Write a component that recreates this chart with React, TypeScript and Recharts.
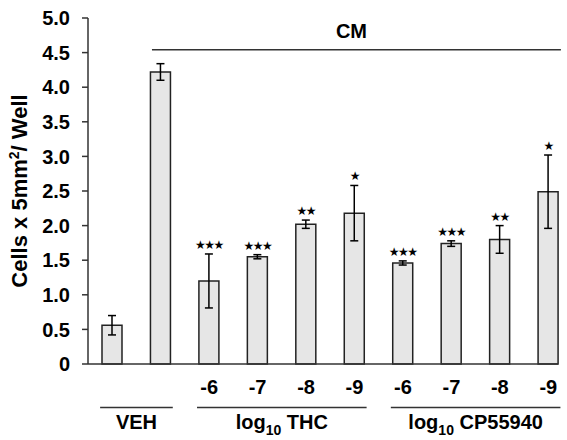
import React from 'react';
import {
  BarChart,
  Bar,
  XAxis,
  YAxis,
  ErrorBar,
  LabelList,
  ReferenceLine,
} from 'recharts';

const groupNames = ['VEH', 'CM', 'THC -6', 'THC -7', 'THC -8', 'THC -9', 'CP -6', 'CP -7', 'CP -8', 'CP -9'];
const means = [0.56, 4.22, 1.2, 1.55, 2.02, 2.18, 1.46, 1.74, 1.8, 2.49];
const errors = [0.14, 0.12, 0.39, 0.03, 0.06, 0.4, 0.03, 0.04, 0.2, 0.53];
const sigMarks = ['', '', '***', '***', '**', '*', '***', '***', '**', '*'];
const doseLabels = ['', '', '-6', '-7', '-8', '-9', '-6', '-7', '-8', '-9'];
const yTicks = [0, 0.5, 1, 1.5, 2, 2.5, 3, 3.5, 4, 4.5, 5];

const FONT = '"Liberation Sans", Arial, sans-serif';
const AXIS = '#333';

const data = groupNames.map((name, i) => ({
  idx: i,
  name,
  mean: means[i],
  err: errors[i],
  sig: sigMarks[i],
}));

// bracket under the axis: first / last bar index
const brackets = [
  { label: 'VEH', first: 0, last: 1, sub: false },
  { label: 'THC', first: 2, last: 5, sub: true },
  { label: 'CP55940', first: 6, last: 9, sub: true },
];

const Stars = (props: any) => {
  const { x, y, width, height, index, value } = props;
  if (!value) return null;
  const pxPerUnit = height / means[index];
  const top = y - errors[index] * pxPerUnit;
  return (
    <text
      x={x + width / 2}
      y={top - 9}
      textAnchor="middle"
      dominantBaseline="central"
      fontSize={12}
      letterSpacing={-1.5}
      fontFamily='"DejaVu Sans", sans-serif'
      fill="#000"
    >
      {value.replace(/\*/g, '★')}
    </text>
  );
};

const YTitle = (props: any) => {
  const { viewBox } = props;
  const cy = viewBox.y + viewBox.height / 2;
  const bx = 27;
  return (
    <text
      x={bx}
      y={cy}
      transform={`rotate(-90, ${bx}, ${cy})`}
      textAnchor="middle"
      fontSize={22}
      fontWeight="bold"
      fontFamily={FONT}
      fill="#000"
    >
      <tspan>Cells x 5mm</tspan>
      <tspan dy={-8} fontSize={14}>2</tspan>
      <tspan dy={8}>/ Well</tspan>
    </text>
  );
};

const BracketLabel = ({ viewBox, text, sub }: any) => {
  const cx = viewBox.x + viewBox.width / 2;
  const y = viewBox.y + 21;
  return (
    <text x={cx} y={y} textAnchor="middle" fontSize={20} fontWeight="bold" fontFamily={FONT} fill="#000">
      {sub ? (
        <>
          <tspan>log</tspan>
          <tspan dy={6} fontSize={14}>10</tspan>
          <tspan dy={-6}>{' ' + text}</tspan>
        </>
      ) : (
        text
      )}
    </text>
  );
};

const CmLabel = ({ viewBox }: any) => (
  <text
    x={viewBox.x + viewBox.width / 2 - 5}
    y={viewBox.y - 12}
    textAnchor="middle"
    fontSize={20}
    fontWeight="bold"
    fontFamily={FONT}
    fill="#000"
  >
    CM
  </text>
);

export default function App() {
  return (
    <div style={{ position: 'absolute', left: 0, top: 0, background: '#fff' }}>
      <BarChart
        width={567}
        height={440}
        data={data}
        margin={{ top: 18, right: 9, left: 0, bottom: 46 }}
      >
        <XAxis
          dataKey="idx"
          type="number"
          domain={[-0.5, 9.2]}
          ticks={[0, 1, 2, 3, 4, 5, 6, 7, 8, 9]}
          interval={0}
          tickFormatter={(v) => doseLabels[v] ?? ''}
          tickLine={false}
          tickSize={0}
          tickMargin={16}
          height={30}
          axisLine={{ stroke: AXIS, strokeWidth: 1.5 }}
          tick={{ fill: '#000', fontSize: 20, fontWeight: 'bold', fontFamily: FONT }}
        />
        <YAxis
          type="number"
          domain={[0, 5]}
          ticks={yTicks}
          interval={0}
          width={88}
          tickSize={6}
          tickMargin={12}
          tickFormatter={(v) => (v === 0 ? '0' : v.toFixed(1))}
          axisLine={{ stroke: AXIS, strokeWidth: 1.5 }}
          tickLine={{ stroke: AXIS, strokeWidth: 1.5 }}
          tick={{ fill: '#000', fontSize: 20, fontWeight: 'bold', fontFamily: FONT }}
          label={(p: any) => <YTitle {...p} />}
        />
        <Bar
          dataKey="mean"
          barSize={20}
          fill="#e6e6e6"
          stroke="#222"
          strokeWidth={1.5}
          isAnimationActive={false}
        >
          <ErrorBar dataKey="err" width={4} stroke="#000" strokeWidth={1.5} direction="y" />
          <LabelList dataKey="sig" content={(p: any) => <Stars {...p} />} />
        </Bar>
        <ReferenceLine
          segment={[
            { x: 0.82, y: 4.54 },
            { x: 9.26, y: 4.54 },
          ]}
          stroke={AXIS}
          strokeWidth={1.5}
          ifOverflow="visible"
          label={(p: any) => <CmLabel {...p} />}
        />
        {brackets.map((b) => (
          <ReferenceLine
            key={b.label}
            segment={[
              { x: b.first - 0.25, y: -0.63 },
              { x: b.last + 0.25, y: -0.63 },
            ]}
            stroke={AXIS}
            strokeWidth={1.5}
            ifOverflow="visible"
            label={(p: any) => <BracketLabel {...p} text={b.label} sub={b.sub} />}
          />
        ))}
      </BarChart>
    </div>
  );
}
